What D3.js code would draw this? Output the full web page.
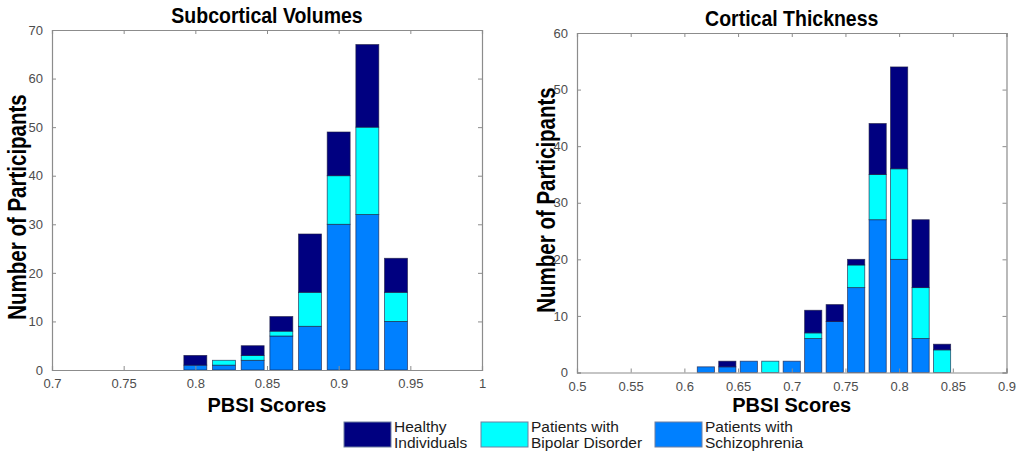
<!DOCTYPE html>
<html><head><meta charset="utf-8">
<script src="https://cdn.jsdelivr.net/npm/d3@7"></script>
<style>
html,body{margin:0;padding:0;background:#fff;}
text{font-family:"Liberation Sans",Arial,sans-serif;}
</style></head>
<body>
<svg id="c" width="1018" height="455"></svg>
<script>
// ---- Data ----
const seriesNames = ["Patients with Schizophrenia", "Patients with Bipolar Disorder", "Healthy Individuals"];
const seriesColors = ["#0080FF", "#00FFFF", "#000080"];

const subBins = [0.80, 0.82, 0.84, 0.86, 0.88, 0.90, 0.92, 0.94];
const subSchizophrenia = [1, 1, 2, 7, 9, 30, 32, 10];
const subBipolar       = [0, 1, 1, 1, 7, 10, 18, 6];
const subHealthy       = [2, 0, 2, 3, 12, 9, 17, 7];
const subXTicks = [0.7, 0.75, 0.8, 0.85, 0.9, 0.95, 1];
const subXTickLabels = ["0.7", "0.75", "0.8", "0.85", "0.9", "0.95", "1"];
const subYTicks = [0, 10, 20, 30, 40, 50, 60, 70];

const corBins = [0.62, 0.64, 0.66, 0.68, 0.70, 0.72, 0.74, 0.76, 0.78, 0.80, 0.82, 0.84];
const corSchizophrenia = [1, 1, 2, 0, 2, 6, 9, 15, 27, 20, 6, 0];
const corBipolar       = [0, 0, 0, 2, 0, 1, 0, 4, 8, 16, 9, 4];
const corHealthy       = [0, 1, 0, 0, 0, 4, 3, 1, 9, 18, 12, 1];
const corXTicks = [0.5, 0.55, 0.6, 0.65, 0.7, 0.75, 0.8, 0.85, 0.9];
const corXTickLabels = ["0.5", "0.55", "0.6", "0.65", "0.7", "0.75", "0.8", "0.85", "0.9"];
const corYTicks = [0, 10, 20, 30, 40, 50, 60];

const svg = d3.select("#c");

function panel(o) {
  const g = svg.append("g");
  const x = d3.scaleLinear().domain(o.xDomain).range([o.x0, o.x1]);
  const y = d3.scaleLinear().domain(o.yDomain).range([o.y0, o.y1]);
  const rows = o.bins.map((b, i) => ({bin: b, s0: o.schiz[i], s1: o.bip[i], s2: o.hea[i]}));
  const stack = d3.stack().keys(["s0", "s1", "s2"])(rows);
  const bw = x(o.bins[0] + 0.016) - x(o.bins[0]);
  stack.forEach((layer, k) => {
    g.append("g").selectAll("rect").data(layer.filter(d => d[1] > d[0])).join("rect")
      .attr("x", d => x(d.data.bin) - bw / 2)
      .attr("width", bw)
      .attr("y", d => y(d[1]))
      .attr("height", d => y(d[0]) - y(d[1]))
      .attr("fill", seriesColors[k])
      .attr("stroke", "#1a1a40")
      .attr("stroke-opacity", 0.75)
      .attr("stroke-width", 0.8);
  });
  const axCol = "#8c8c8c";
  const tickCol = "#4d4d4d";
  const fmt = (d) => o.xLabels[o.xTicks.indexOf(d)];
  const bottom = g.append("g").attr("transform", `translate(0,${o.y0})`)
    .call(d3.axisBottom(x).tickValues(o.xTicks).tickSize(-4).tickPadding(o.xPad).tickFormat(fmt));
  const top = g.append("g").attr("transform", `translate(0,${o.y1})`)
    .call(d3.axisTop(x).tickValues(o.xTicks).tickSize(-4).tickFormat(""));
  const left = g.append("g").attr("transform", `translate(${o.x0},0)`)
    .call(d3.axisLeft(y).tickValues(o.yTicks).tickSize(-4).tickPadding(9));
  const right = g.append("g").attr("transform", `translate(${o.x1},0)`)
    .call(d3.axisRight(y).tickValues(o.yTicks).tickSize(-4).tickFormat(""));
  [bottom, top, left, right].forEach(a => {
    a.select(".domain").attr("stroke", axCol).attr("stroke-width", 1.2);
    a.selectAll(".tick line").attr("stroke", axCol);
    a.selectAll(".tick text").attr("fill", tickCol).style("font-size", "13px")
      .style("font-family", '"Liberation Sans",Arial,sans-serif');
  });
  bottom.selectAll(".tick text").attr("dy", "0.71em");
  // title
  g.append("text").attr("transform", `translate(${(o.x0 + o.x1) / 2},${o.titleY}) scale(1,1.12)`)
    .attr("text-anchor", "middle").style("font-size", "19.5px").style("font-weight", "bold")
    .text(o.title);
  g.append("text").attr("transform", `translate(${(o.x0 + o.x1) / 2},412)`)
    .attr("text-anchor", "middle").style("font-size", "20px").style("font-weight", "bold")
    .text("PBSI Scores");
  g.append("text").attr("transform", `translate(${o.ylx},${o.ylCenter}) rotate(-90) scale(1,1.3)`)
    .attr("text-anchor", "middle").style("font-size", "20.5px").style("font-weight", "bold")
    .text("Number of Participants");
}

panel({title: "Subcortical Volumes", titleY: 23, x0: 52, x1: 482, y0: 370, y1: 30,
  xDomain: [0.7, 1], yDomain: [0, 70], bins: subBins, schiz: subSchizophrenia, bip: subBipolar,
  hea: subHealthy, xTicks: subXTicks, xLabels: subXTickLabels, yTicks: subYTicks,
  ylx: 26, ylCenter: 207, xPad: 9});

panel({title: "Cortical Thickness", titleY: 26, x0: 577, x1: 1006.5, y0: 372.5, y1: 33,
  xDomain: [0.5, 0.9], yDomain: [0, 60], bins: corBins, schiz: corSchizophrenia, bip: corBipolar,
  hea: corHealthy, xTicks: corXTicks, xLabels: corXTickLabels, yTicks: corYTicks,
  ylx: 555, ylCenter: 200, xPad: 9});

// legend
const legendItems = [
  {k: 2, lines: ["Healthy", "Individuals"], x: 344},
  {k: 1, lines: ["Patients with", "Bipolar Disorder"], x: 481},
  {k: 0, lines: ["Patients with", "Schizophrenia"], x: 655}
];
const lg = svg.append("g");
legendItems.forEach(it => {
  lg.append("rect").attr("x", it.x).attr("y", 422).attr("width", 47).attr("height", 25)
    .attr("fill", seriesColors[it.k]).attr("stroke", "#6f7fa0").attr("stroke-width", 1);
  const t = lg.append("text").attr("x", it.x + 50).attr("y", 432).style("font-size", "15.5px").attr("fill", "#1a1a1a");
  it.lines.forEach((l, i) => t.append("tspan").attr("x", it.x + 50).attr("dy", i === 0 ? 0 : 16).text(l));
});
</script>
</body></html>
